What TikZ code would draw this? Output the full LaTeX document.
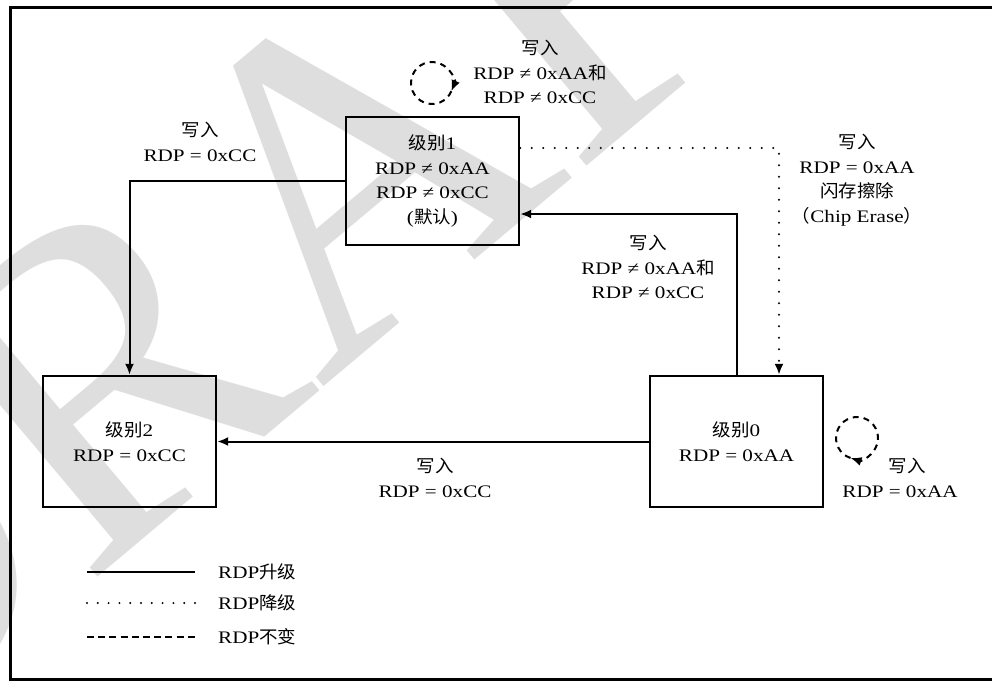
\documentclass[tikz,border=0pt]{standalone}
\usepackage{fontspec}
\setmainfont{Liberation Serif}[FakeStretch=1.2]
\newfontfamily\cjk{Noto Sans CJK SC}[FakeStretch=1.05]
\newfontfamily\wmfont{Liberation Serif}
\newcommand\zh[1]{{\cjk #1}}
\usetikzlibrary{arrows.meta,calc}
\begin{document}
\begin{tikzpicture}[x=1pt,y=1pt,
  txt/.style={font=\fontsize{17.6}{24.5}\selectfont},
  box/.style={txt,draw,line width=2.4pt,minimum width=173pt,minimum height=131pt,align=center,inner sep=0pt},
  lbl/.style={txt,align=center,inner sep=0pt},
  tip/.style={-{Latex[length=11pt,width=9pt]}},
  upgrade/.style={line width=2pt,tip},
  downgrade/.style={line width=2.3pt,dash pattern=on 0pt off 11.5pt,line cap=round,tip},
  keep/.style={line width=2pt,dash pattern=on 6pt off 5pt},
  looparrow/.style={keep,tip}
]
\useasboundingbox (0,0) rectangle (992,-680);
\clip (0,0) rectangle (992,-680);
\fill[white] (0,0) rectangle (992,-680);
% watermark
\node[rotate=40, text=black!13, font=\wmfont\fontsize{460}{460}\selectfont, inner sep=0pt] (wm) at (311,-200) {DRAFT};
% frame
\draw[line width=3pt] (10.5,-7.5) rectangle (1010,-679);
% boxes
\node[box,minimum height=128pt] (b1) at (432.5,-181) {\zh{级别}1\\RDP ≠ 0xAA\\RDP ≠ 0xCC\\(\zh{默认})};
\node[box] (b2) at (129.5,-441.5) {\zh{级别}2\\RDP = 0xCC};
\node[box] (b0) at (736.5,-441.5) {\zh{级别}0\\RDP = 0xAA};
% connectors
\draw[upgrade] (b1.west) -| (b2.north);
\draw[upgrade] (b0.west) -- (b2.east);
\draw[upgrade] (b0.north) |- ([yshift=-33pt]b1.east);
\draw[downgrade] ([yshift=33pt]b1.east) -| ([xshift=42.5pt]b0.north);
% labels
\node[lbl] (l12) at (200,-142) {\zh{写入}\\RDP = 0xCC};
\node[lbl] (l02) at (435,-478) {\zh{写入}\\RDP = 0xCC};
\node[lbl] (l01) at (648,-267) {\zh{写入}\\RDP ≠ 0xAA\zh{和}\\RDP ≠ 0xCC};
\node[lbl] (l10) at (857,-180) {\zh{写入}\\RDP = 0xAA\\\zh{闪存擦除}\\\zh{（}Chip Erase\zh{）}};
% self loops
\coordinate (c1) at (432,-83);
\draw[looparrow] ([shift={(337:21)}]c1) arc[start angle=337, end angle=-23, radius=21];
\node[lbl] (ll1) at (540,-72) {\zh{写入}\\RDP ≠ 0xAA\zh{和}\\RDP ≠ 0xCC};
\coordinate (c0) at (857,-438);
\draw[looparrow] ([shift={(252:21)}]c0) arc[start angle=252, end angle=-108, radius=21];
\node[lbl] (ll0) at (900,-478) {\hspace*{14pt}\zh{写入}\\RDP = 0xAA};
% legend
\coordinate (s1) at (87,-572); \coordinate (e1) at (195,-572);
\coordinate (s2) at (87,-603); \coordinate (e2) at (195,-603);
\coordinate (s3) at (87,-637); \coordinate (e3) at (195,-637);
\draw[line width=2pt] (s1) -- (e1);
\draw[line width=2.2pt,dash pattern=on 0pt off 10.8pt,line cap=round] (s2) -- (e2);
\draw[line width=2pt,dash pattern=on 7pt off 4.2pt] (s3) -- (e3);
\node[txt,anchor=west,inner sep=0pt] (t1) at (218,-572) {RDP\zh{升级}};
\node[txt,anchor=west,inner sep=0pt] (t2) at (218,-603) {RDP\zh{降级}};
\node[txt,anchor=west,inner sep=0pt] (t3) at (218,-637) {RDP\zh{不变}};
\end{tikzpicture}
\end{document}
